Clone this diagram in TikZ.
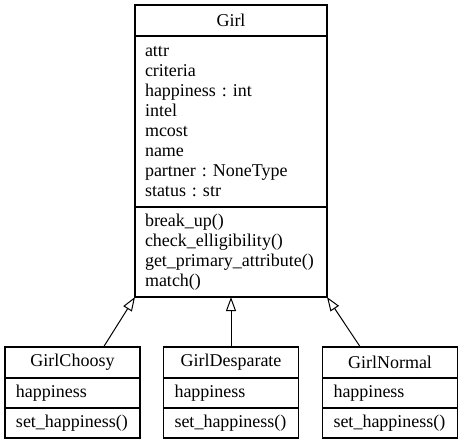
\documentclass[tikz,border=0pt]{standalone}
\usepackage{fontspec}
\setmainfont{Liberation Serif}
\frenchspacing
\usetikzlibrary{positioning,arrows.meta,calc}

\tikzset{
  part/.style={draw,line width=1.2pt,outer sep=0pt,inner ysep=0pt,font=\fontsize{18}{20}\selectfont},
  bigpart/.style={part,text width=172pt,inner xsep=10pt},
  smallpart/.style={part,text width=113pt,inner xsep=11pt},
  inherit/.style={-{Triangle[open,length=14pt,width=10pt]},line width=1pt}
}

\begin{document}
\begin{tikzpicture}[x=1pt,y=-1pt]
  \useasboundingbox (0,0) rectangle (463,445);

  % base class
  \node[bigpart,align=center,minimum height=31pt] (Gi) at (231,20.5) {Girl};
  \node[bigpart,align=left,minimum height=171pt,below=0pt of Gi] (GiAt) {attr\\criteria\\happiness : int\\intel\\mcost\\name\\partner : NoneType\\status : str};
  \node[bigpart,align=left,minimum height=90pt,below=0pt of GiAt] (GiOp) {break\_up()\\check\_elligibility()\\get\_primary\_attribute()\\match()};

  % subclasses
  \node[smallpart,align=center,minimum height=31pt] (GiCh) at (72.5,362.5) {GirlChoosy};
  \node[smallpart,align=left,minimum height=30pt,below=0pt of GiCh] (GiChAt) {happiness};
  \node[smallpart,align=left,minimum height=30pt,below=0pt of GiChAt] (GiChOp) {set\_happiness()};

  \node[smallpart,align=center,minimum height=31pt] (GiDe) at (231,362.5) {GirlDesparate};
  \node[smallpart,align=left,minimum height=30pt,below=0pt of GiDe] (GiDeAt) {happiness};
  \node[smallpart,align=left,minimum height=30pt,below=0pt of GiDeAt] (GiDeOp) {set\_happiness()};

  \node[smallpart,align=center,minimum height=31pt] (GiNo) at (390,362.5) {GirlNormal};
  \node[smallpart,align=left,minimum height=30pt,below=0pt of GiNo] (GiNoAt) {happiness};
  \node[smallpart,align=left,minimum height=30pt,below=0pt of GiNoAt] (GiNoOp) {set\_happiness()};

  % inheritance
  \draw[inherit] ($(GiCh.north west)!0.73!(GiCh.north east)$) to (GiOp.south west);
  \draw[inherit] (GiDe.north) to (GiOp.south);
  \draw[inherit] ($(GiNo.north west)!0.28!(GiNo.north east)$) to (GiOp.south east);

\end{tikzpicture}
\end{document}
